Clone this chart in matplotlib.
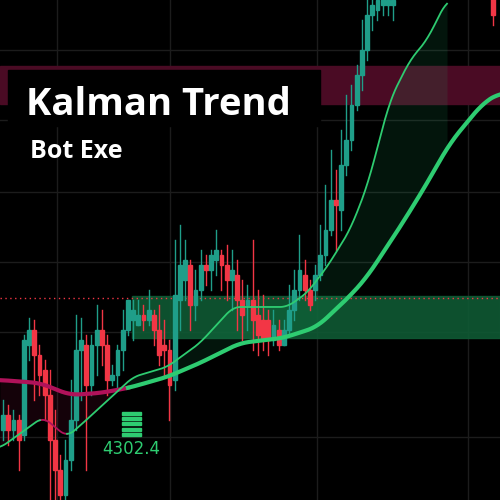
import matplotlib.pyplot as plt
from matplotlib.patches import Rectangle
import numpy as np

# candles: open, close, high, low (chart units, y grows downward like price flipped)
cx = [3 + i * 5.2 for i in range(76)] + [493]
co = [430, 415, 430, 420, 435, 345, 330, 355, 370, 395, 440, 470, 495, 460, 420, 350, 345, 385, 345, 330,
      345, 380, 375, 350, 330, 320, 325, 315, 320, 315, 330, 345, 350, 380, 300, 280, 265, 305, 290, 265,
      270, 260, 255, 265, 280, 275, 300, 305, 300, 315, 320, 320, 340, 330, 345, 330, 310, 290, 275, 290,
      290, 275, 255, 230, 200, 210, 165, 140, 105, 75, 50, 15, 10, 5, 5, 5, -5]
cc = [415, 430, 420, 440, 340, 330, 355, 375, 395, 440, 470, 495, 460, 420, 350, 340, 385, 345, 330, 345,
      380, 375, 350, 330, 300, 310, 315, 320, 310, 330, 355, 350, 385, 295, 265, 260, 305, 290, 265, 270,
      255, 250, 265, 280, 270, 300, 315, 300, 320, 335, 340, 340, 325, 345, 330, 310, 290, 270, 290, 305,
      275, 255, 230, 200, 205, 165, 140, 105, 75, 50, 15, 5, 0, -5, 0, 0, 15]
ch = [400, 405, 410, 415, 335, 318, 320, 345, 360, 370, 410, 455, 440, 380, 315, 318, 335, 335, 305, 310,
      335, 365, 345, 310, 300, 300, 300, 305, 290, 310, 305, 320, 340, 240, 225, 240, 260, 270, 250, 255,
      250, 230, 250, 245, 250, 260, 280, 285, 240, 290, 295, 310, 310, 320, 320, 285, 270, 235, 260, 280,
      265, 225, 185, 150, 170, 130, 95, 85, 65, 20, 0, -5, -5, -5, -5, -5, -5]
cl = [440, 445, 440, 470, 440, 360, 400, 395, 420, 500, 500, 500, 500, 470, 430, 400, 470, 395, 375, 365,
      395, 385, 390, 370, 335, 340, 325, 330, 325, 345, 365, 375, 420, 390, 330, 300, 330, 320, 300, 285,
      290, 275, 290, 300, 310, 330, 340, 330, 350, 355, 350, 355, 345, 350, 345, 335, 320, 300, 300, 310,
      300, 280, 265, 235, 250, 230, 175, 150, 110, 90, 60, 30, 20, 15, 15, 20, 25]

fast_x = [0, 43, 67, 83, 133, 167, 200, 233, 267, 287, 307, 327, 350, 367, 390, 410, 427, 447]
fast_y = [448, 417, 437, 423, 377, 367, 343, 307, 307, 307, 293, 267, 230, 187, 100, 60, 40, 0]
slow_x = [0, 40, 70, 100, 128, 167, 200, 240, 283, 317, 350, 367, 400, 423, 450, 483, 500]
slow_y = [380, 383, 395, 393, 388, 377, 363, 343, 338, 327, 296, 277, 227, 190, 143, 103, 93]

price_label = "4302.4"


def smooth(x, px, py, w=21):
    y = np.interp(x, px, py)
    pad = np.pad(y, w // 2, mode="edge")
    return np.convolve(pad, np.ones(w) / w, mode="valid")


fig = plt.figure(figsize=(5, 5), dpi=100)
fig.patch.set_facecolor("black")
ax = fig.add_axes([0, 0, 1, 1])
ax.set_facecolor("black")
ax.set_xlim(0, 500)
ax.set_ylim(500, 0)
ax.axis("off")

for gx in [57, 170, 317, 468]:
    ax.axvline(gx, color="#1c1c1c", lw=1, zorder=0)
for gy in [50, 120, 192, 262, 332, 437]:
    ax.axhline(gy, color="#1c1c1c", lw=1, zorder=0)

# zones
ax.add_patch(Rectangle((0, 66), 500, 38, color="#4a0b24", zorder=1))
ax.add_patch(Rectangle((132, 296), 368, 42, color="#0f5a34", alpha=0.9, zorder=1))
ax.axhline(298, color="#f23645", lw=1, ls=(0, (1, 2.5)), zorder=2)

# kalman lines
xs = np.linspace(0, 500, 501)
sy = smooth(xs, slow_x, slow_y)
xf = xs[xs <= 447]
fy = smooth(xf, fast_x, fast_y, 15)
sf = sy[xs <= 447]
m = xf >= 128
ax.fill_between(xf[m], fy[m], sf[m], color="#1db56a", alpha=0.12, lw=0, zorder=2)
ax.fill_between(xf[~m], fy[~m], sf[~m], color="#8a1040", alpha=0.15, lw=0, zorder=2)

for i in range(len(cx)):
    up = cc[i] < co[i]
    col = "#1f9e89" if up else "#f23645"
    ax.plot([cx[i], cx[i]], [ch[i], cl[i]], color=col, lw=1, zorder=3)
    lo, hi = min(co[i], cc[i]), max(co[i], cc[i])
    ax.add_patch(Rectangle((cx[i] - 1.9, lo), 3.8, max(hi - lo, 1.5), color=col, zorder=3))

ax.plot(xs[xs <= 128], sy[xs <= 128], color="#b0125a", lw=3, zorder=4)
ax.plot(xs[xs >= 128], sy[xs >= 128], color="#2ecc71", lw=3, zorder=4)
pk = (xf >= 40) & (xf <= 67)
ax.plot(xf[pk], fy[pk], color="#b0125a", lw=1.3, zorder=4)
ax.plot(xf[xf <= 40], fy[xf <= 40], color="#2ecc71", lw=1.3, zorder=4)
ax.plot(xf[xf >= 67], fy[xf >= 67], color="#2ecc71", lw=1.3, zorder=4)

# title box
ax.add_patch(Rectangle((8, 70), 312, 56, color="black", zorder=5))
ax.text(26, 105, "Kalman Trend", color="white", fontsize=27.5, fontweight="bold",
        fontfamily="Open Sans", va="center", zorder=6)
ax.text(30, 151, "Bot Exe", color="white", fontsize=18, fontweight="bold",
        fontfamily="Open Sans", va="center", zorder=6)

# price label with icon
for k in range(5):
    ax.add_patch(Rectangle((122, 412 + k * 5.2), 19, 3, color="#2ecc71", zorder=6))
ax.text(131, 449, price_label, color="#2ecc71", fontsize=12, ha="center", va="center", zorder=6)

fig.savefig("out.png", dpi=100, facecolor="black")
